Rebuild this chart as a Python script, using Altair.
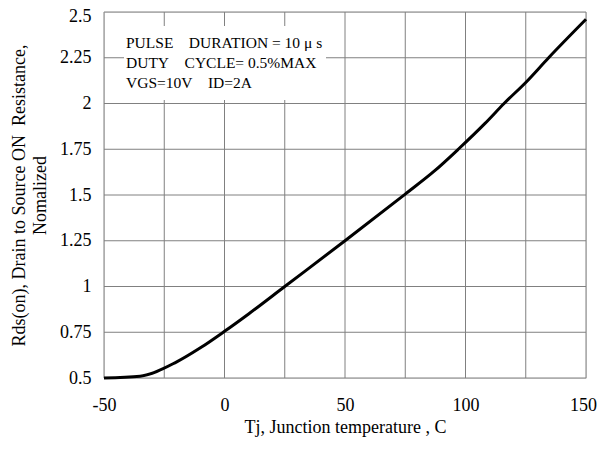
import altair as alt
import pandas as pd

temps = [-50, -35, -20, -10, 0, 10, 25, 50, 75, 87, 97, 108, 116, 125, 134.5, 150]
rds = [0.50, 0.51, 0.587, 0.665, 0.755, 0.85, 1.0, 1.25, 1.505, 1.63, 1.75, 1.89, 2.0, 2.115, 2.25, 2.46]
x_ticks = [-50, 0, 50, 100, 150]
x_grid = [-50, -25, 0, 25, 50, 75, 100, 125, 150]
y_ticks = [0.5, 0.75, 1, 1.25, 1.5, 1.75, 2, 2.25, 2.5]
notes = ["PULSE\u00a0\u00a0\u00a0\u00a0DURATION = 10 \u03bc s",
         "DUTY\u00a0\u00a0\u00a0\u00a0CYCLE= 0.5%MAX",
         "VGS=10V\u00a0\u00a0\u00a0\u00a0ID=2A"]
y_title = ["Rds(on), Drain to Source ON\u00a0\u00a0Resistance,", "Nomalized"]
x_title = "Tj, Junction temperature , C"

df = pd.DataFrame({"T": temps, "R": rds})
FONT = "Liberation Serif"

xs = alt.Scale(domain=[-50, 150], nice=False, zero=False)
ys = alt.Scale(domain=[0.5, 2.5], nice=False, zero=False)

xaxis = alt.Axis(values=x_ticks, title=x_title,
                 labelExpr="'' + datum.value",
                 grid=False, ticks=False, domain=False, labelFlush=False,
                 labelOffset=alt.expr("datum.value == 150 ? -3 : 0"),
                 labelFont=FONT, labelFontSize=18, labelColor="black",
                 labelPadding=18, titleFont=FONT, titleFontSize=18,
                 titleFontWeight="normal", titleColor="black", titlePadding=4)
yaxis = alt.Axis(values=y_ticks, title=y_title,
                 labelExpr="'' + datum.value",
                 grid=False, ticks=False, domain=False,
                 labelFont=FONT, labelFontSize=18, labelColor="black",
                 labelPadding=13, labelFlush=False,
                 labelOffset=alt.expr("datum.value == 2.5 ? 4 : 0"),
                 titleFont=FONT, titleFontSize=18,
                 titleFontWeight="normal", titleColor="black", titlePadding=10,
                 titleLineHeight=21)

xgrid_df = pd.DataFrame({"T": x_grid})
ygrid_df = pd.DataFrame({"R": y_ticks})

line = alt.Chart(df).mark_line(color="black", strokeWidth=3, interpolate="monotone").encode(
    x=alt.X("T:Q", scale=xs, axis=xaxis),
    y=alt.Y("R:Q", scale=ys, axis=yaxis),
)
vgrid = alt.Chart(xgrid_df).mark_rule(color="#808080", strokeWidth=1).encode(
    x=alt.X("T:Q", scale=xs, axis=xaxis))
hgrid = alt.Chart(ygrid_df).mark_rule(color="#808080", strokeWidth=1).encode(
    y=alt.Y("R:Q", scale=ys, axis=yaxis))

box = alt.Chart(pd.DataFrame({"a": [0]})).mark_rect(color="white").encode(
    x=alt.value(20), x2=alt.value(222), y=alt.value(14), y2=alt.value(88))

text = alt.Chart(pd.DataFrame({"a": [0]})).mark_text(
    align="left", baseline="middle", font=FONT, fontSize=15.5, color="black",
    text=notes, lineHeight=20
).encode(x=alt.value(22), y=alt.value(31))

chart = alt.layer(vgrid, hgrid, box, text, line).properties(
    width=482, height=366,
    autosize=alt.AutoSizeParams(type="none"),
    padding={"left": 96, "top": 4, "right": 12, "bottom": 63},
).configure_view(stroke="black", strokeWidth=1.5).configure(background="white")

chart.save("out.html", embed_options={"renderer": "svg", "actions": False})
